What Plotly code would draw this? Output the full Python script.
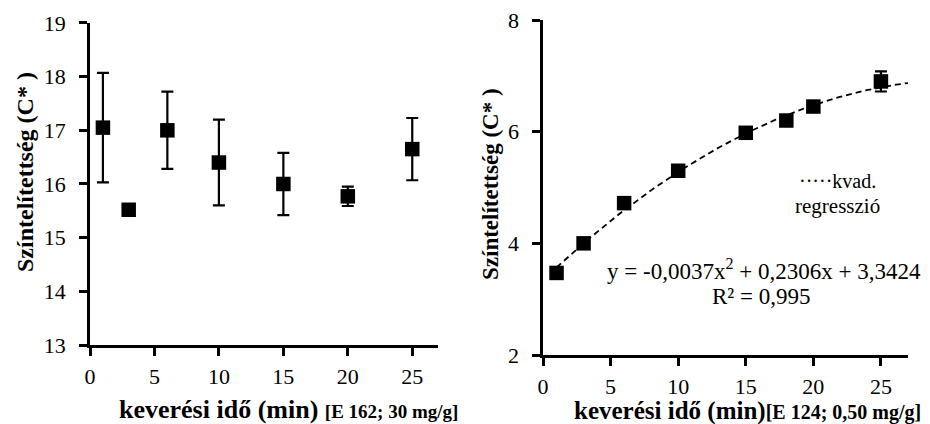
import numpy as np
import plotly.graph_objects as go

# Left chart: E 162; 30 mg/g
left_x = [1, 3, 6, 10, 15, 20, 25]
left_y = [17.05, 15.52, 17.0, 16.4, 16.0, 15.77, 16.65]
left_err = [1.02, 0.08, 0.72, 0.8, 0.58, 0.18, 0.58]

# Right chart: E 124; 0,50 mg/g
right_x = [1, 3, 6, 10, 15, 18, 20, 25]
right_y = [3.47, 4.0, 4.72, 5.3, 5.98, 6.2, 6.45, 6.9]
right_err = [0.03, 0.03, 0.05, 0.08, 0.04, 0.04, 0.05, 0.18]

# Quadratic regression coefficients (as printed on the chart)
coef_a, coef_b, coef_c = -0.0037, 0.2306, 3.3424
fit_x = np.linspace(1, 27, 120)
fit_y = coef_a * fit_x**2 + coef_b * fit_x + coef_c

x_ticks = [0, 5, 10, 15, 20, 25]
left_yticks = [13, 14, 15, 16, 17, 18, 19]
right_yticks = [2, 4, 6, 8]

FONT = "Liberation Serif"

fig = go.Figure()
fig.add_trace(go.Scatter(
    x=left_x, y=left_y, mode="markers",
    marker=dict(symbol="square", size=14.5, color="black"),
    error_y=dict(type="data", array=left_err, color="black", thickness=2.2, width=6),
    xaxis="x", yaxis="y", showlegend=False))
fig.add_trace(go.Scatter(
    x=fit_x, y=fit_y, mode="lines",
    line=dict(color="black", width=1.8, dash="6px,4px"),
    xaxis="x2", yaxis="y2", showlegend=False))
fig.add_trace(go.Scatter(
    x=right_x, y=right_y, mode="markers",
    marker=dict(symbol="square", size=14.5, color="black"),
    error_y=dict(type="data", array=right_err, color="black", thickness=2.2, width=6),
    xaxis="x2", yaxis="y2", showlegend=False))

axis_common = dict(showgrid=False, zeroline=False, showline=True, linecolor="black",
                   linewidth=2.5, ticks="outside", ticklen=8, tickwidth=2.5,
                   tickcolor="black", automargin=False,
                   tickfont=dict(family=FONT, size=22, color="black"))

fig.update_layout(
    width=930, height=424,
    margin=dict(l=0, r=0, t=0, b=0, autoexpand=False),
    font=dict(family=FONT, color="black"),
    plot_bgcolor="white", paper_bgcolor="white",
    xaxis=dict(domain=[0.0968, 0.471], range=[0, 27], tickvals=x_ticks,
               anchor="y", ticklabelstandoff=2, **axis_common),
    yaxis=dict(domain=[0.1863, 0.9458], range=[13, 19], tickvals=left_yticks,
               anchor="x", ticklabelstandoff=9, **axis_common),
    xaxis2=dict(domain=[0.5839, 0.9763], range=[0, 27], tickvals=x_ticks,
                anchor="y2", ticklabelstandoff=2, **axis_common),
    yaxis2=dict(domain=[0.1627, 0.9528], range=[2, 8], tickvals=right_yticks,
                anchor="x2", ticklabelstandoff=9, **axis_common),
)

ann = []
ytitle = "<b>Színtelítettség (C* )</b>"
ann.append(dict(text=ytitle, x=25, y=172, textangle=-90,
                font=dict(family=FONT, size=24, color="black")))
ann.append(dict(text=ytitle, x=490, y=184, textangle=-90,
                font=dict(family=FONT, size=23, color="black")))
ann.append(dict(text="<b>keverési idő (min) <span style='font-size:19px'>[E 162; 30 mg/g]</span></b>",
                x=288, y=409, font=dict(family=FONT, size=26, color="black")))
ann.append(dict(text="<b>keverési idő (min)<span style='font-size:20px'>[E 124; 0,50 mg/g]</span></b>",
                x=747, y=411, font=dict(family=FONT, size=25, color="black")))
ann.append(dict(text="·····kvad.", x=837, y=181,
                font=dict(family=FONT, size=20, color="black")))
ann.append(dict(text="regresszió", x=837, y=206,
                font=dict(family=FONT, size=21, color="black")))
ann.append(dict(text="y = -0,0037x<sup>2</sup> + 0,2306x + 3,3424", x=764, y=269,
                font=dict(family=FONT, size=23, color="black")))
ann.append(dict(text="R² = 0,995", x=761, y=296,
                font=dict(family=FONT, size=23, color="black")))

# convert pixel positions to paper fractions
for a in ann:
    a["x"] = a["x"] / 930
    a["y"] = 1 - a["y"] / 424
    a["xref"] = "paper"
    a["yref"] = "paper"
    a["showarrow"] = False
    a["xanchor"] = "center"
    a["yanchor"] = "middle"
fig.update_layout(annotations=ann)

fig.write_html("out.html", post_script="document.body.style.margin='0';",
               config={"displayModeBar": False})
